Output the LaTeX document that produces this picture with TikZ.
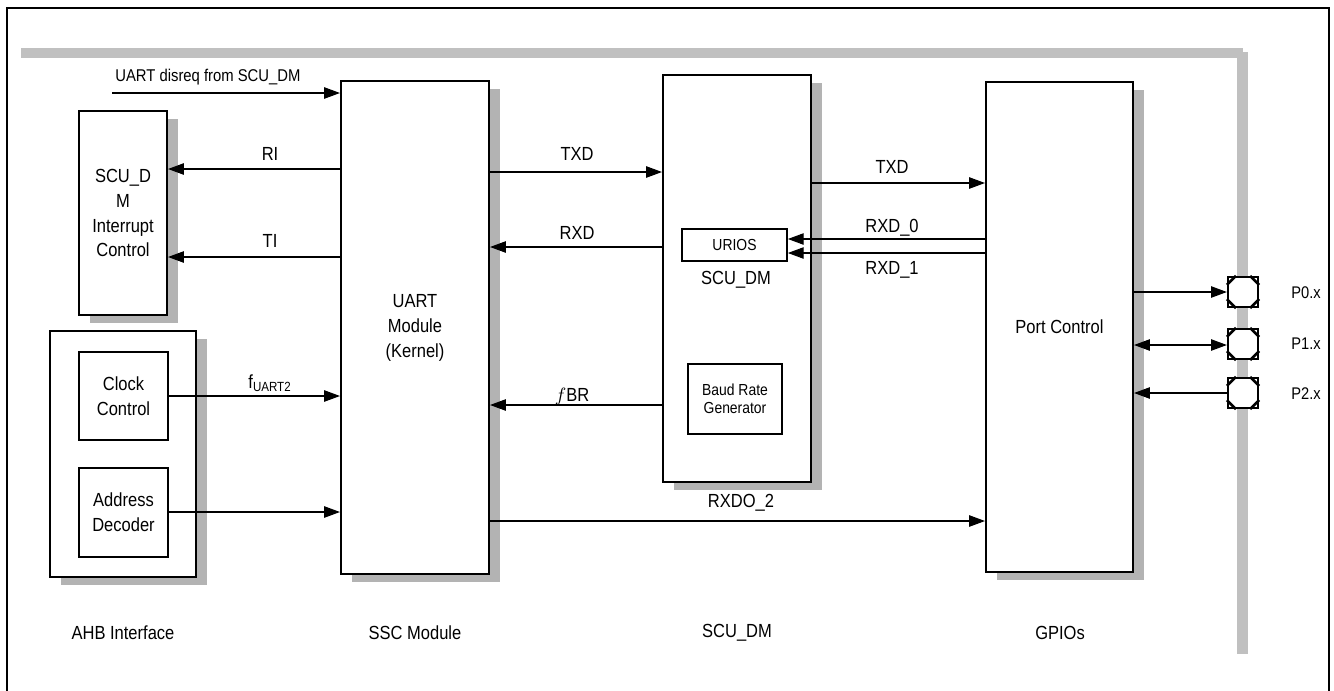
\documentclass[tikz,border=0pt]{standalone}
\usepackage{fontspec}
\setmainfont{Liberation Sans}[FakeStretch=0.87]
\usetikzlibrary{arrows.meta,shadows,calc}
\definecolor{shgray}{HTML}{B3B3B3}
\definecolor{busgray}{HTML}{C0C0C0}
\begin{document}
\begin{tikzpicture}[x=0.02cm,y=-0.02cm,
  blk/.style={draw, line width=1.2pt, fill=white, inner sep=0pt, align=center,
    font=\fontsize{10.8}{14.2}\selectfont,
    drop shadow={shadow xshift=0.22cm, shadow yshift=-0.16cm, fill=shgray, opacity=1}},
  sub/.style={draw, line width=1pt, fill=white, inner sep=0pt, align=center,
    font=\fontsize{10.8}{14.2}\selectfont},
  small/.style={font=\fontsize{9.1}{10.4}\selectfont},
  lbl/.style={inner sep=0pt, font=\fontsize{10.8}{14.2}\selectfont, text height=7.7pt, text depth=0pt},
  slbl/.style={inner sep=0pt, font=\fontsize{9.6}{11}\selectfont, text height=6.9pt, text depth=0pt},
  arr/.style={line width=0.6pt, -{Triangle[length=9pt,width=6.5pt]}},
  arrboth/.style={line width=0.6pt, {Triangle[length=9pt,width=6.5pt]}-{Triangle[length=9pt,width=6.5pt]}},
  pinbox/.style={draw, line width=1.3pt, fill=white, minimum width=0.6cm, minimum height=0.6cm, inner sep=0pt},
  diag/.style={line width=1.5pt}
]
\useasboundingbox (0,0) rectangle (1334,690);
% outer frame
\draw[line width=0.6pt] (7,700) -- (7,8) -- (1329,8) -- (1329,700);
% bus bars
\fill[busgray] (21,48) rectangle (1243,58);
\fill[busgray] (1237,52) rectangle (1248,654);

% blocks
\node[blk, minimum width=1.76cm, minimum height=4.08cm] (intc) at (123,213) {SCU\_D\\M\\Interrupt\\Control};
\node[blk, minimum width=2.92cm, minimum height=4.92cm] (ahb) at (123,454) {};
\node[sub, minimum width=1.78cm, minimum height=1.76cm] (clk) at (123.5,396) {Clock\\Control};
\node[sub, minimum width=1.78cm, minimum height=1.78cm] (addr) at (123.5,512.5) {Address\\Decoder};
\node[blk, minimum width=2.96cm, minimum height=9.86cm] (uart) at (415,327.5) {UART\\Module\\(Kernel)};
\node[blk, minimum width=2.96cm, minimum height=8.14cm] (scu) at (737,278.5) {};
\node[sub, small, minimum width=2.1cm, minimum height=0.64cm] (urios) at (734.5,245) {URIOS};
\node[lbl] (scuname) at (736,278) {SCU\_DM};
\node[sub, small, minimum width=1.88cm, minimum height=1.4cm] (baud) at (735,399) {Baud Rate\\Generator};
\node[blk, minimum width=2.94cm, minimum height=9.8cm] (port) at (1059.5,327) {Port Control};

% pins
\foreach \n/\y in {p0/292, p1/344, p2/393}{
  \node[pinbox] (\n) at (1243,\y) {};
  \draw[diag] ($(\n.north west)+(9,0)$) -- ($(\n.north west)+(0,9)$);
  \draw[diag] ($(\n.north east)+(-9,0)$) -- ($(\n.north east)+(0,9)$);
  \draw[diag] ($(\n.south west)+(9,0)$) -- ($(\n.south west)+(0,-9)$);
  \draw[diag] ($(\n.south east)+(-9,0)$) -- ($(\n.south east)+(0,-9)$);
}

% connectors
\coordinate (dis) at (112,93);
\draw[arr] (dis) -- (dis -| uart.west);
\draw[arr] (uart.west |- 0,169) -- (intc.east |- 0,169);
\draw[arr] (uart.west |- 0,257) -- (intc.east |- 0,257);
\draw[arr] (clk.east) -- (clk.east -| uart.west);
\draw[arr] (addr.east |- 0,512) -- (uart.west |- 0,512);
\draw[arr] (uart.east |- 0,172) -- (scu.west |- 0,172);
\draw[arr] (scu.west |- 0,247) -- (uart.east |- 0,247);
\draw[arr] (scu.west |- 0,405) -- (uart.east |- 0,405);
\draw[arr] (scu.east |- 0,183) -- (port.west |- 0,183);
\draw[arr] (port.west |- 0,239) -- (urios.east |- 0,239);
\draw[arr] (port.west |- 0,253) -- (urios.east |- 0,253);
\draw[arr] (uart.east |- 0,521) -- (port.west |- 0,521);
\draw[arr] (port.east |- p0.west) -- (p0.west);
\draw[arrboth] (port.east |- 0,345) -- (p1.west |- 0,345);
\draw[arr] (p2.west) -- (port.east |- p2.west);

% labels
\node[lbl, font=\fontsize{9.7}{12}\selectfont, text height=6.9pt, anchor=west] (ldis) at (115,75) {UART disreq from SCU\_DM};
\node[lbl] (lri) at (270,154) {RI};
\node[lbl] (lti) at (270,241) {TI};
\node[lbl] (lfu) at (270,382) {f\textsubscript{UART2}};
\node[lbl] (ltxd1) at (577,154) {TXD};
\node[lbl] (lrxd) at (577,233) {RXD};
\node[lbl] (lfbr) at (572,395) {$f$BR};
\node[lbl] (ltxd2) at (892,167) {TXD};
\node[lbl] (lrxd0) at (892,226) {RXD\_0};
\node[lbl] (lrxd1) at (892,268) {RXD\_1};
\node[lbl] (lrxdo) at (741,501) {RXDO\_2};
\node[slbl] (lp0) at (1306,292) {P0.x};
\node[slbl] (lp1) at (1306,343) {P1.x};
\node[slbl] (lp2) at (1306,393) {P2.x};
\node[lbl] (bahb) at (123,633) {AHB Interface};
\node[lbl] (bssc) at (415,633) {SSC Module};
\node[lbl] (bscu) at (737,631) {SCU\_DM};
\node[lbl] (bgpio) at (1060,633) {GPIOs};
\end{tikzpicture}
\end{document}
